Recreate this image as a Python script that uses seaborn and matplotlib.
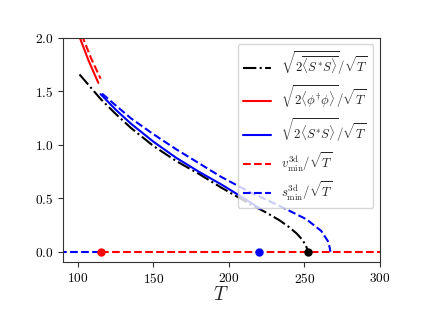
import numpy as np
import pandas as pd
import matplotlib
matplotlib.use("Agg")
import matplotlib.pyplot as plt
import seaborn as sns

# valores
t_preto = [101, 115, 125, 135, 150, 165, 180, 195, 213.6, 225, 233.5, 240, 245, 248.5, 251, 252.5]
v_preto = [1.66, 1.43, 1.29, 1.16, 0.99, 0.85, 0.73, 0.60, 0.45, 0.365, 0.295, 0.23, 0.17, 0.115, 0.06, 0.0]

t_vermelho = [100.5, 107, 113.5]
v_vermelho = [2.03, 1.79, 1.58]

t_azul = [115, 125, 135, 150, 165, 180, 195, 210, 221]
v_azul = [1.475, 1.33, 1.20, 1.03, 0.88, 0.75, 0.63, 0.50, 0.40]

t_vermelho_3d = [102.5, 109, 115]
v_vermelho_3d = [2.03, 1.80, 1.62]

t_azul_3d = [116, 125, 135, 150, 165, 180, 195, 213.6, 233.5, 251.3, 261.2, 265.6, 266.8, 267.2]
v_azul_3d = [1.48, 1.37, 1.25, 1.10, 0.96, 0.83, 0.70, 0.56, 0.43, 0.305, 0.195, 0.10, 0.04, 0.0]

# ramos com minimo em zero
t_zero_azul = [80, 115]
t_zero_vermelho = [115, 310]

# pontos de transicao
t_transicao = [115, 220, 252.5]
cores_transicao = ["red", "blue", "black"]

sns.set_style("ticks")
plt.rcParams["font.family"] = "serif"
plt.rcParams["font.serif"] = ["cmr10", "DejaVu Serif"]
plt.rcParams["mathtext.fontset"] = "cm"
plt.rcParams["axes.formatter.use_mathtext"] = True
plt.rcParams["axes.edgecolor"] = "0.2"
plt.rcParams["xtick.color"] = "0.2"
plt.rcParams["ytick.color"] = "0.2"
plt.rcParams["xtick.labelcolor"] = "black"
plt.rcParams["ytick.labelcolor"] = "black"

fig = plt.figure(figsize=(4.22, 3.17), dpi=100)
ax = fig.add_axes([0.149, 0.172, 0.751, 0.708])

lw = 1.5
sns.lineplot(x=t_preto, y=v_preto, color="black", linestyle="-.", lw=lw, ax=ax,
             label=r"$\sqrt{2\overline{\langle S^{*}S\rangle}}/\sqrt{T}$", sort=False)
sns.lineplot(x=t_vermelho, y=v_vermelho, color="red", linestyle="-", lw=lw, ax=ax,
             label=r"$\sqrt{2\langle\phi^{\dagger}\phi\rangle}/\sqrt{T}$", sort=False)
sns.lineplot(x=t_azul, y=v_azul, color="blue", linestyle="-", lw=lw, ax=ax,
             label=r"$\sqrt{2\langle S^{*}S\rangle}/\sqrt{T}$", sort=False)
sns.lineplot(x=t_vermelho_3d, y=v_vermelho_3d, color="red", linestyle="--", lw=lw, ax=ax,
             label=r"$v^{\mathrm{3d}}_{\mathrm{min}}/\sqrt{T}$", sort=False)
sns.lineplot(x=t_azul_3d, y=v_azul_3d, color="blue", linestyle="--", lw=lw, ax=ax,
             label=r"$s^{\mathrm{3d}}_{\mathrm{min}}/\sqrt{T}$", sort=False)

sns.lineplot(x=t_zero_azul, y=[0, 0], color="blue", linestyle="--", lw=lw, ax=ax, legend=False)
sns.lineplot(x=t_zero_vermelho, y=[0, 0], color="red", linestyle="--", lw=lw, ax=ax, legend=False)

for t, c in zip(t_transicao, cores_transicao):
    ax.plot([t], [0], "o", color=c, ms=5, zorder=5)

ax.set_xlim(90, 300)
ax.set_ylim(-0.1, 2.0)
ax.set_xticks([100, 150, 200, 250, 300])
ax.set_yticks([0.0, 0.5, 1.0, 1.5, 2.0])
ax.tick_params(labelsize=9.6)
ax.set_xlabel(r"$T$", fontsize=14, labelpad=0)
ax.set_ylabel("")

ax.legend(loc="upper right", fontsize=9.2, handlelength=2.2)

plt.savefig("out.png", dpi=100)
